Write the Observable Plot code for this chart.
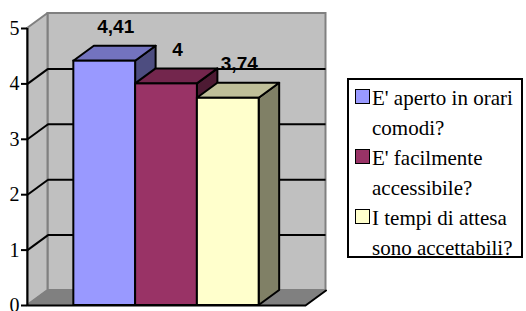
<!DOCTYPE html>
<html>
<head>
<meta charset="utf-8">
<script src="https://cdn.jsdelivr.net/npm/d3@7"></script>
<script src="https://cdn.jsdelivr.net/npm/@observablehq/plot@0.6"></script>
<style>
  html, body { margin: 0; padding: 0; background: #fff; }
  #wrap { position: relative; width: 526px; height: 311px; overflow: hidden; }
  #chart { position: absolute; left: 0; top: 0; }
  #legend {
    position: absolute; left: 347px; top: 78px; width: 176px; height: 180px;
    box-sizing: border-box; border: 2px solid #000; padding-top: 3px;
    font-family: "Liberation Serif", "Times New Roman", Times, "DejaVu Serif", serif;
    font-size: 21px; line-height: 30px; color: #000;
  }
  .item { position: relative; padding-left: 23px; white-space: pre; }
  .sw { position: absolute; left: 6px; top: 6px; width: 13px; height: 13px; border: 1.5px solid #000; }
</style>
</head>
<body>
<div id="wrap"><div id="chart"></div><div id="legend"></div></div>
<script>
// ---- data ----
const categories = ["E' aperto in orari\ncomodi?", "E' facilmente\naccessibile?", "I tempi di attesa\nsono accettabili?"];
const values = [4.41, 4, 3.74];
const valueLabels = ["4,41", "4", "3,74"];
const yTicks = [0, 1, 2, 3, 4, 5];

// ---- style ----
const serif = "'Liberation Serif', 'Times New Roman', Times, 'DejaVu Serif', serif";
const frontColors = ["#9999FF", "#993366", "#FFFFCC"];
const topColors = ["#7373BF", "#73264D", "#BFBF99"];
const sideColors = ["#4D4D80", "#4D1A33", "#808066"];
const W = 340, H = 311, mL = 27, mR = 35, mT = 28, mB = 6;
const xDomain = [-0.75, 3.75], yDomain = [0, 5];
const DX = 20.5 * (xDomain[1] - xDomain[0]) / (W - mL - mR);   // depth in x units
const DY = 15 * (yDomain[1] - yDomain[0]) / (H - mT - mB);      // depth in y units
const X0 = xDomain[0], X1 = xDomain[1], YM = yDomain[1];

const sideData = values.flatMap((v, i) => [
  {x: i + 1, y1: 0, y2: v, s: i},
  {x: i + 1 + DX, y1: DY, y2: v + DY, s: i}
]);
const topData = values.flatMap((v, i) => [
  {y: v, x1: i, x2: i + 1, s: i},
  {y: v + DY, x1: i + DX, x2: i + 1 + DX, s: i}
]);
const bars = values.map((v, i) => ({i, v, label: valueLabels[i]}));
const gridVals = yTicks.filter(t => t > 0 && t < YM);

const plot = Plot.plot({
  width: W, height: H,
  marginLeft: mL, marginRight: mR, marginTop: mT, marginBottom: mB,
  x: {domain: xDomain, axis: null},
  y: {domain: yDomain, axis: null},
  color: {type: "identity"},
  style: {background: "transparent", overflow: "visible"},
  marks: [
    Plot.rect([0], {x1: X0 + DX, x2: X1 + DX, y1: DY, y2: YM + DY, fill: "#C0C0C0", stroke: "#808080", strokeWidth: 2}),
    Plot.areaY([{x: X0, y1: 0, y2: YM}, {x: X0 + DX, y1: DY, y2: YM + DY}], {x: "x", y1: "y1", y2: "y2", fill: "#C0C0C0", stroke: "#808080", strokeWidth: 2}),
    Plot.areaX([{y: 0, x1: X0, x2: X1}, {y: DY, x1: X0 + DX, x2: X1 + DX}], {y: "y", x1: "x1", x2: "x2", fill: "#808080", stroke: "#808080", strokeWidth: 1}),
    Plot.ruleY(gridVals, {y: d => d + DY, x1: X0 + DX, x2: X1 + DX, stroke: "#000", strokeWidth: 2}),
    Plot.link(gridVals, {x1: X0, y1: d => d, x2: X0 + DX, y2: d => d + DY, stroke: "#000", strokeWidth: 2}),
    Plot.ruleX([X0], {y1: 0, y2: YM, stroke: "#000", strokeWidth: 2}),
    Plot.line([{x: X0, y: 0}, {x: X1, y: 0}, {x: X1 + DX, y: DY}], {x: "x", y: "y", stroke: "#000", strokeWidth: 2}),
    Plot.areaY(sideData, {x: "x", y1: "y1", y2: "y2", z: "s", fill: d => sideColors[d.s], stroke: "#000", strokeWidth: 2}),
    Plot.areaX(topData, {y: "y", x1: "x1", x2: "x2", z: "s", fill: d => topColors[d.s], stroke: "#000", strokeWidth: 2}),
    Plot.rect(bars, {x1: d => d.i, x2: d => d.i + 1, y1: 0, y2: "v", fill: d => frontColors[d.i], stroke: "#000", strokeWidth: 2}),
    Plot.text(bars, {x: d => d.i + 0.5, y: d => d.v + DY, text: "label", dx: 11, dy: -13, lineAnchor: "bottom",
      fontFamily: "'Liberation Sans', Arial, sans-serif", fontWeight: "bold", fontSize: 19, fill: "#000"}),
    Plot.axisY(yTicks, {anchor: "left", tickSize: 6, tickPadding: 2, strokeWidth: 2, stroke: "#000", color: "#000", label: null,
      fontFamily: serif, fontSize: 20, tickFormat: d => String(d)})
  ]
});
document.getElementById("chart").appendChild(plot);

const legend = document.getElementById("legend");
categories.forEach((c, i) => {
  const it = document.createElement("div");
  it.className = "item";
  const sw = document.createElement("span");
  sw.className = "sw";
  sw.style.background = frontColors[i];
  it.appendChild(sw);
  it.appendChild(document.createTextNode(c));
  legend.appendChild(it);
});
</script>
</body>
</html>
